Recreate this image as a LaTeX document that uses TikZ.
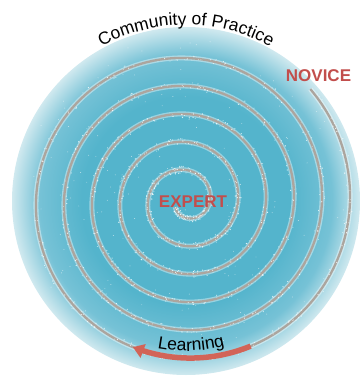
\documentclass[tikz,border=0pt]{standalone}
\usepackage{fontspec}
\setmainfont{Liberation Sans}
\usetikzlibrary{decorations.text,arrows.meta}

\definecolor{diskcore}{RGB}{84,180,204}
\definecolor{diskmid}{RGB}{118,194,214}
\definecolor{diskrim}{RGB}{208,233,239}
\definecolor{spiralgray}{RGB}{172,165,158}
\definecolor{wordred}{RGB}{194,78,76}
\definecolor{arrowred}{RGB}{210,100,88}

% radial fill: 25bp is the rim of the shaded circle
\pgfdeclareradialshading{diskshade}{\pgfpoint{0bp}{0bp}}{%
  color(0bp)=(diskcore); color(15bp)=(diskcore);
  color(21bp)=(diskmid); color(25bp)=(diskrim); color(50bp)=(diskrim)}

\begin{document}
\begin{tikzpicture}[x=1pt,y=-1pt,
  declare function={sprad(\t)=24+\t/360*28;},
  spiralline/.style={line width=2.3pt, draw=spiralgray, line join=round},
  spiralhalo/.style={line width=5pt, draw=white, draw opacity=0.4, line join=round},
  speck/.style={fill=white, fill opacity=0.8},
  redword/.style={font=\bfseries\fontsize{17}{20}\selectfont, text=wordred, inner sep=0pt},
  learnarrow/.style={draw=arrowred, line width=5.5pt,
    -{Triangle[length=11pt,width=14pt]}}]

\useasboundingbox (0,0) rectangle (360,378);

% shaded disk of the community
\shade[shading=diskshade] (186,201) circle[radius=174pt];

% the learning spiral, from the core outwards
\draw[spiralhalo] plot[domain=-150:1842, samples=1200, variable=\t]
  ({186+sprad(\t)*cos(\t)}, {201-sprad(\t)*sin(\t)});
\draw[spiralline] plot[domain=-150:1842, samples=1200, variable=\t]
  ({186+sprad(\t)*cos(\t)}, {201-sprad(\t)*sin(\t)});

% white specks scattered along the spiral and over the disk
\pgfmathsetseed{11}
\foreach \i in {1,...,1100}{
  \pgfmathsetmacro\ph{-150+1992*rnd}
  \pgfmathsetmacro\rr{sprad(\ph)+3.6*rand}
  \pgfmathsetmacro\sz{0.35+0.35*rnd}
  \fill[speck] ({186+\rr*cos(\ph)},{201-\rr*sin(\ph)}) circle[radius=\sz pt];
}
\foreach \i in {1,...,160}{
  \pgfmathsetmacro\ph{360*rnd}
  \pgfmathsetmacro\rr{165*sqrt(rnd)}
  \fill[speck, fill opacity=0.6] ({186+\rr*cos(\ph)},{201-\rr*sin(\ph)}) circle[radius=0.45pt];
}

% learning direction arrow over the outer turn
\draw[learnarrow] plot[domain=1734:1690, samples=30, variable=\t]
  ({186+sprad(\t)*cos(\t)}, {201-sprad(\t)*sin(\t)});

% curved captions
\path[decorate, decoration={text along path, text align=center,
  text={|\fontsize{17.5}{20}\selectfont|Community of Practice}}]
  ({186+176*cos(150)},{201-176*sin(150)}) arc[start angle=150, end angle=30, radius=176pt];
\path[decorate, decoration={text along path, text align=center,
  text={|\fontsize{17.5}{20}\selectfont|Learning}}]
  ({186+150*cos(247)},{201-150*sin(247)}) arc[start angle=247, end angle=297, radius=150pt];

% end labels of the spiral
\node[redword] (novice) at (318.5,76) {NOVICE};
\node[redword] (expert) at (193,201.5) {EXPERT};

\end{tikzpicture}
\end{document}
